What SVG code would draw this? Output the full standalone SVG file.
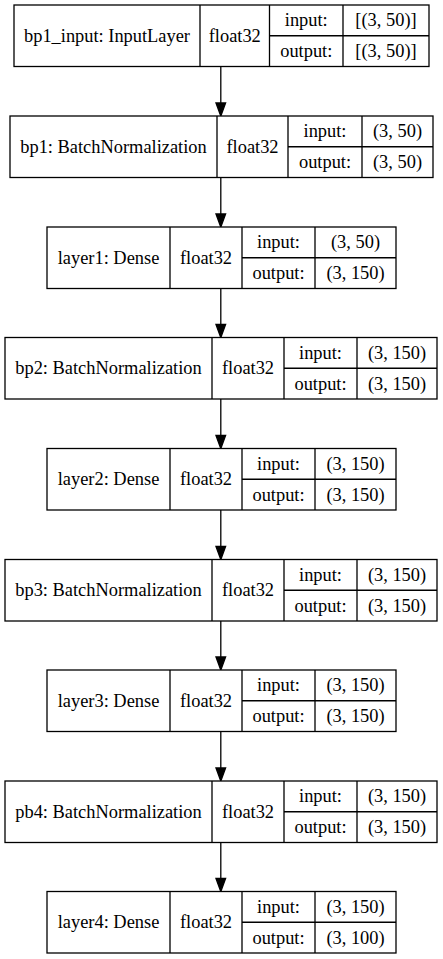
<svg xmlns="http://www.w3.org/2000/svg" width="443" height="959" viewBox="0 0 443 959">
<style>
.b{fill:#fff;stroke:#000;stroke-width:1.3}
.l{stroke:#000;stroke-width:1.3;fill:none}
text{font-family:"Liberation Serif","Times New Roman",serif;font-size:18.4px;fill:#000;text-anchor:middle}
.ah{fill:#000;stroke:#000;stroke-width:1.3}
</style>
<rect x="0" y="0" width="443" height="959" fill="#fff"/>
<g id="connectors">
<line class="l" x1="220.8" y1="66.5" x2="220.8" y2="103"/><polygon class="ah" points="216,103 220.8,116 225.6,103"/>
<line class="l" x1="220.8" y1="177.5" x2="220.8" y2="214"/><polygon class="ah" points="216,214 220.8,227 225.6,214"/>
<line class="l" x1="220.8" y1="288.5" x2="220.8" y2="324.5"/><polygon class="ah" points="216,324.5 220.8,337.5 225.6,324.5"/>
<line class="l" x1="220.8" y1="399" x2="220.8" y2="435.5"/><polygon class="ah" points="216,435.5 220.8,448.5 225.6,435.5"/>
<line class="l" x1="220.8" y1="510" x2="220.8" y2="546.5"/><polygon class="ah" points="216,546.5 220.8,559.5 225.6,546.5"/>
<line class="l" x1="220.8" y1="621" x2="220.8" y2="657"/><polygon class="ah" points="216,657 220.8,670 225.6,657"/>
<line class="l" x1="220.8" y1="731.5" x2="220.8" y2="768"/><polygon class="ah" points="216,768 220.8,781 225.6,768"/>
<line class="l" x1="220.8" y1="842.5" x2="220.8" y2="878.5"/><polygon class="ah" points="216,878.5 220.8,891.5 225.6,878.5"/>
</g>
<g id="bp1_input">
<rect class="b" x="14" y="5" width="415" height="61.5"/>
<path class="l" d="M200 5V66.5M269.5 5V66.5M343 5V66.5M269.5 35.75H429"/>
<text x="107" y="41.8">bp1_input: InputLayer</text>
<text x="234.75" y="41.8">float32</text>
<text x="306.25" y="26.4">input:</text>
<text x="386" y="26.4">[(3, 50)]</text>
<text x="306.25" y="57.1">output:</text>
<text x="386" y="57.1">[(3, 50)]</text>
</g>
<g id="bp1">
<rect class="b" x="10" y="116" width="423" height="61.5"/>
<path class="l" d="M217 116V177.5M288 116V177.5M362 116V177.5M288 146.75H433"/>
<text x="113.5" y="152.75">bp1: BatchNormalization</text>
<text x="252.5" y="152.75">float32</text>
<text x="325" y="137.4">input:</text>
<text x="397.5" y="137.4">(3, 50)</text>
<text x="325" y="168.1">output:</text>
<text x="397.5" y="168.1">(3, 50)</text>
</g>
<g id="layer1">
<rect class="b" x="47" y="227" width="349" height="61.5"/>
<path class="l" d="M170 227V288.5M242 227V288.5M315 227V288.5M242 257.75H396"/>
<text x="108.5" y="263.75">layer1: Dense</text>
<text x="206" y="263.75">float32</text>
<text x="278.5" y="248.4">input:</text>
<text x="355.5" y="248.4">(3, 50)</text>
<text x="278.5" y="279.1">output:</text>
<text x="355.5" y="279.1">(3, 150)</text>
</g>
<g id="bp2">
<rect class="b" x="5" y="337.5" width="432" height="61.5"/>
<path class="l" d="M212 337.5V399M284 337.5V399M357 337.5V399M284 368.25H437"/>
<text x="108.5" y="374.25">bp2: BatchNormalization</text>
<text x="248" y="374.25">float32</text>
<text x="320.5" y="358.9">input:</text>
<text x="397" y="358.9">(3, 150)</text>
<text x="320.5" y="389.6">output:</text>
<text x="397" y="389.6">(3, 150)</text>
</g>
<g id="layer2">
<rect class="b" x="47" y="448.5" width="349" height="61.5"/>
<path class="l" d="M170 448.5V510M242 448.5V510M315 448.5V510M242 479.25H396"/>
<text x="108.5" y="485.25">layer2: Dense</text>
<text x="206" y="485.25">float32</text>
<text x="278.5" y="469.9">input:</text>
<text x="355.5" y="469.9">(3, 150)</text>
<text x="278.5" y="500.6">output:</text>
<text x="355.5" y="500.6">(3, 150)</text>
</g>
<g id="bp3">
<rect class="b" x="5" y="559.5" width="432" height="61.5"/>
<path class="l" d="M212 559.5V621M284 559.5V621M357 559.5V621M284 590.25H437"/>
<text x="108.5" y="596.25">bp3: BatchNormalization</text>
<text x="248" y="596.25">float32</text>
<text x="320.5" y="580.9">input:</text>
<text x="397" y="580.9">(3, 150)</text>
<text x="320.5" y="611.6">output:</text>
<text x="397" y="611.6">(3, 150)</text>
</g>
<g id="layer3">
<rect class="b" x="47" y="670" width="349" height="61.5"/>
<path class="l" d="M170 670V731.5M242 670V731.5M315 670V731.5M242 700.75H396"/>
<text x="108.5" y="706.75">layer3: Dense</text>
<text x="206" y="706.75">float32</text>
<text x="278.5" y="691.4">input:</text>
<text x="355.5" y="691.4">(3, 150)</text>
<text x="278.5" y="722.1">output:</text>
<text x="355.5" y="722.1">(3, 150)</text>
</g>
<g id="pb4">
<rect class="b" x="5" y="781" width="432" height="61.5"/>
<path class="l" d="M212 781V842.5M284 781V842.5M357 781V842.5M284 811.75H437"/>
<text x="108.5" y="817.75">pb4: BatchNormalization</text>
<text x="248" y="817.75">float32</text>
<text x="320.5" y="802.4">input:</text>
<text x="397" y="802.4">(3, 150)</text>
<text x="320.5" y="833.1">output:</text>
<text x="397" y="833.1">(3, 150)</text>
</g>
<g id="layer4">
<rect class="b" x="47" y="891.5" width="349" height="61.5"/>
<path class="l" d="M170 891.5V953M242 891.5V953M315 891.5V953M242 922.25H396"/>
<text x="108.5" y="928.25">layer4: Dense</text>
<text x="206" y="928.25">float32</text>
<text x="278.5" y="912.9">input:</text>
<text x="355.5" y="912.9">(3, 150)</text>
<text x="278.5" y="943.6">output:</text>
<text x="355.5" y="943.6">(3, 100)</text>
</g>
</svg>
